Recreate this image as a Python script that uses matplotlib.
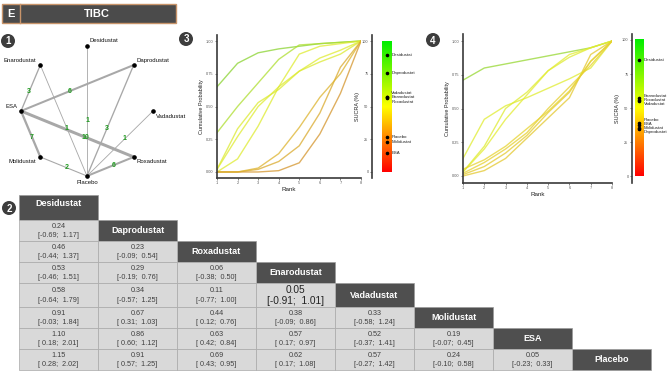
import numpy as np
import matplotlib
matplotlib.use("Agg")
import matplotlib.pyplot as plt
from matplotlib.colors import LinearSegmentedColormap
from matplotlib.patches import Rectangle, Circle

plt.rcParams['font.family'] = ['Liberation Sans', 'DejaVu Sans']

W, H = 669, 372

treatments = ["Desidustat", "Daprodustat", "Roxadustat", "Enarodustat",
              "Vadadustat", "Molidustat", "ESA", "Placebo"]

# network: order around the circle (clockwise from top) and comparisons
net_order = ["Desidustat", "Daprodustat", "Vadadustat", "Roxadustat",
             "Placebo", "Molidustat", "ESA", "Enarodustat"]
net_edges = [("Enarodustat", "ESA", 3), ("Daprodustat", "ESA", 6),
             ("ESA", "Molidustat", 7), ("ESA", "Roxadustat", 10),
             ("Enarodustat", "Placebo", 1), ("Desidustat", "Placebo", 1),
             ("Daprodustat", "Placebo", 3), ("Placebo", "Vadadustat", 1),
             ("Molidustat", "Placebo", 2), ("Placebo", "Roxadustat", 6)]

# league table (row treatment vs column treatment)
league_est = [[0.24],
              [0.46, 0.23],
              [0.53, 0.29, 0.06],
              [0.58, 0.34, 0.11, 0.05],
              [0.91, 0.67, 0.44, 0.38, 0.33],
              [1.10, 0.86, 0.63, 0.57, 0.52, 0.19],
              [1.15, 0.91, 0.69, 0.62, 0.57, 0.24, 0.05]]
league_lo = [[-0.69],
             [-0.44, -0.09],
             [-0.46, -0.19, -0.38],
             [-0.64, -0.57, -0.77, -0.91],
             [-0.03, 0.31, 0.12, -0.09, -0.58],
             [0.18, 0.60, 0.42, 0.17, -0.37, -0.07],
             [0.28, 0.57, 0.43, 0.17, -0.27, -0.10, -0.23]]
league_hi = [[1.17],
             [1.37, 0.54],
             [1.51, 0.76, 0.50],
             [1.79, 1.25, 1.00, 1.01],
             [1.84, 1.03, 0.76, 0.86, 1.24],
             [2.01, 1.12, 0.84, 0.97, 1.41, 0.45],
             [2.02, 1.25, 0.95, 1.08, 1.42, 0.58, 0.33]]

ranks = np.arange(1, 9)
# cumulative rank probabilities, same order as treatments
cum_left = [[0.65, 0.83, 0.91, 0.94, 0.96, 0.98, 0.99, 1.0],
            [0.30, 0.50, 0.68, 0.86, 0.97, 0.98, 0.99, 1.0],
            [0.02, 0.27, 0.50, 0.65, 0.77, 0.87, 0.93, 1.0],
            [0.00, 0.10, 0.35, 0.65, 0.90, 0.96, 0.98, 1.0],
            [0.02, 0.33, 0.53, 0.63, 0.77, 0.84, 0.90, 1.0],
            [0.00, 0.00, 0.02, 0.08, 0.20, 0.45, 0.80, 1.0],
            [0.00, 0.00, 0.00, 0.01, 0.07, 0.29, 0.60, 1.0],
            [0.00, 0.00, 0.03, 0.14, 0.34, 0.57, 0.75, 1.0]]
sucra_left = [89.5, 75.5, 56.5, 57.0, 57.5, 23.0, 14.5, 26.5]

cum_right = [[0.71, 0.80, 0.83, 0.86, 0.89, 0.92, 0.95, 1.0],
             [0.00, 0.04, 0.13, 0.28, 0.43, 0.58, 0.90, 1.0],
             [0.13, 0.42, 0.52, 0.58, 0.65, 0.72, 0.80, 1.0],
             [0.03, 0.22, 0.50, 0.62, 0.78, 0.88, 0.95, 1.0],
             [0.03, 0.20, 0.42, 0.60, 0.78, 0.90, 0.95, 1.0],
             [0.01, 0.07, 0.17, 0.30, 0.47, 0.62, 0.85, 1.0],
             [0.02, 0.10, 0.20, 0.32, 0.50, 0.66, 0.82, 1.0],
             [0.05, 0.12, 0.22, 0.35, 0.48, 0.63, 0.85, 1.0]]
sucra_right = [85.0, 34.5, 56.0, 57.0, 55.0, 35.5, 37.5, 39.0]

cmap = LinearSegmentedColormap.from_list("ryg", ["#ff0000", "#ffff00", "#00ee00"])
line_cmap = LinearSegmentedColormap.from_list("lines", ["#c8702a", "#f0f030", "#70cc30"])
DARK = "#4f4f4f"


def px_axes(x0, y0, x1, y1):
    return fig.add_axes([x0 / W, 1 - y1 / H, (x1 - x0) / W, (y1 - y0) / H])


def spread(vals, gap):
    # push overlapping labels apart (simple repel)
    order = np.argsort(vals)[::-1]
    pos = np.array(vals, float)[order]
    for _ in range(300):
        for i in range(len(pos) - 1):
            d = pos[i] - pos[i + 1]
            if d < gap:
                m = (gap - d) / 2
                pos[i] += m
                pos[i + 1] -= m
    out = np.empty(len(vals))
    out[order] = pos
    return out


def badge(x, y, s):
    cv.add_patch(Circle((x, y), 7, fc="#3d3d3d", ec="none"))
    cv.text(x, y + 0.5, s, color="white", fontsize=7, weight="bold",
            ha="center", va="center")


fig = plt.figure(figsize=(W / 100, H / 100), dpi=100)
cv = fig.add_axes([0, 0, 1, 1])
cv.set_xlim(0, W)
cv.set_ylim(H, 0)
cv.axis("off")

# title bar
cv.add_patch(Rectangle((2, 4), 174, 19, fc="#4b4b4b", ec="#c8946a", lw=1))
cv.plot([19.5, 19.5], [4, 23], color="#c8946a", lw=1)
cv.text(10.5, 14, "E", color="white", fontsize=8, weight="bold", ha="center", va="center")
cv.text(97, 14, "TIBC", color="white", fontsize=8, weight="bold", ha="center", va="center")

# ---- panel 1: network
cx, cy, rx, ry = 87, 111, 66, 65
node_xy = {}
for i, name in enumerate(net_order):
    a = np.deg2rad(90 - 45 * i)
    node_xy[name] = (cx + rx * np.cos(a), cy - ry * np.sin(a), np.cos(a), np.sin(a))

for a_name, b_name, n in net_edges:
    xa, ya = node_xy[a_name][:2]
    xb, yb = node_xy[b_name][:2]
    cv.plot([xa, xb], [ya, yb], color="#a8a8a8", lw=0.45 + 0.17 * n,
            solid_capstyle="round", zorder=2)
    cv.text(xa + 0.57 * (xb - xa), ya + 0.57 * (yb - ya), str(n), color="#1f9a1f",
            fontsize=5, weight="bold", ha="center", va="center", zorder=4)

for name, (x, y, c, s) in node_xy.items():
    cv.plot(x, y, "o", color="black", ms=2.3, zorder=5)
    if s < -0.9:
        ha, dx, dy = "center", 0, 6
    elif c < -0.1:
        ha, dx, dy = "right", -4, -5
    else:
        ha, dx, dy = "left", 3, -5
    if s <= 0 and c > -0.9 and s > -0.9:
        dy = 5
    cv.text(x + dx, y + dy, name, fontsize=4.3, ha=ha, va="center", color="#111111")

badge(8, 41, "1")

# ---- panel 2: league table
col_x0, col_w = 19, 79
row_h = [25, 21, 21, 21, 24, 21, 21, 21]
row_top = 195 + np.concatenate([[0], np.cumsum(row_h)[:-1]])
for r, name in enumerate(treatments):
    yt, h = row_top[r], row_h[r]
    cv.add_patch(Rectangle((col_x0 + r * col_w, yt), col_w, h, fc=DARK,
                           ec="#9a9a9a", lw=0.5))
    cv.text(col_x0 + r * col_w + col_w / 2, yt + (h / 2 if r else 9), name,
            color="white", fontsize=6.5, weight="bold", ha="center", va="center")
    for c in range(r):
        est, lo, hi = league_est[r - 1][c], league_lo[r - 1][c], league_hi[r - 1][c]
        x0 = col_x0 + c * col_w
        cv.add_patch(Rectangle((x0, yt), col_w, h, fc="#d9d9d9", ec="#a8a8a8", lw=0.5))
        big = (r == 4 and c == 3)
        fs = 7.3 if big else 5.2
        col = "#222222" if big else "#404040"
        cv.text(x0 + col_w / 2, yt + h * 0.3, f"{est:.2f}", fontsize=fs,
                color=col, ha="center", va="center")
        cv.text(x0 + col_w / 2, yt + h * 0.73, f"[{lo:5.2f}; {hi:5.2f}]",
                fontsize=fs, color=col, ha="center", va="center")

badge(9, 208, "2")


# ---- panels 3 and 4: rankograms with SUCRA bars
def rankogram(box, cum, ylim):
    ax = px_axes(*box)
    for i in range(len(treatments)):
        ax.plot(ranks, cum[i], color=line_cmap(sucra[i] / 100), alpha=0.75, lw=1.0)
    ax.set_xlim(1, 8)
    ax.set_ylim(*ylim)
    ax.set_xticks(ranks)
    ax.set_yticks([0, 0.25, 0.5, 0.75, 1.0])
    ax.set_yticklabels(["0.00", "0.25", "0.50", "0.75", "1.00"])
    for sp in ["top", "right"]:
        ax.spines[sp].set_visible(False)
    for sp in ["left", "bottom"]:
        ax.spines[sp].set_color("#3a3a3a")
        ax.spines[sp].set_linewidth(1.2)
    ax.tick_params(labelsize=2.8, length=1.5, width=0.5, color="#555555",
                   labelcolor="#555555", pad=1)
    ax.set_xlabel("Rank", fontsize=4.5, labelpad=1, color="#222222")
    ax.set_ylabel("Cumulative Probability", fontsize=4, labelpad=1.5, color="#222222")
    return ax


def sucra_bar(box, ylim, bar_x, gap):
    ax = px_axes(*box)
    grad = np.linspace(0, 1, 256).reshape(-1, 1)
    ax.imshow(grad, cmap=cmap, origin="lower", aspect="auto",
              extent=[bar_x[0], bar_x[1], 0, 100], zorder=1)
    ax.set_xlim(0, box[2] - box[0])
    ax.set_ylim(*ylim)
    for sp in ["top", "right", "bottom"]:
        ax.spines[sp].set_visible(False)
    ax.spines["left"].set_color("#3a3a3a")
    ax.spines["left"].set_linewidth(1.2)
    ax.set_xticks([])
    ax.set_yticks([0, 25, 50, 75, 100])
    ax.tick_params(labelsize=2.8, length=1.5, width=0.5, color="#555555",
                   labelcolor="#555555", pad=1)
    ax.set_ylabel("SUCRA (%)", fontsize=4, labelpad=1.5, color="#222222")
    dot_x = bar_x[0] + 0.55 * (bar_x[1] - bar_x[0])
    ax.scatter([dot_x] * len(sucra), sucra, s=2.5, color="black", zorder=3)
    lab_y = spread(sucra, gap)
    for name, y in zip(treatments, lab_y):
        ax.text(bar_x[1] + 0.6, y, name, fontsize=3.2, color="#222222",
                ha="left", va="center", clip_on=False)
    ax.patch.set_alpha(0)
    return ax


sucra = sucra_left
rankogram((217, 35, 361, 178), cum_left, (-0.046, 1.046))
sucra_bar((372, 35, 400, 178), (-4.6, 104.6), (9.5, 18.7), 3.4)
badge(186, 39, "3")

sucra = sucra_right
rankogram((463, 34, 612, 183), cum_right, (-0.052, 1.052))
sucra_bar((632, 34, 660, 183), (-5.1, 104.4), (2.5, 11.0), 2.9)
badge(433, 40, "4")

fig.savefig("out.png", dpi=100)
